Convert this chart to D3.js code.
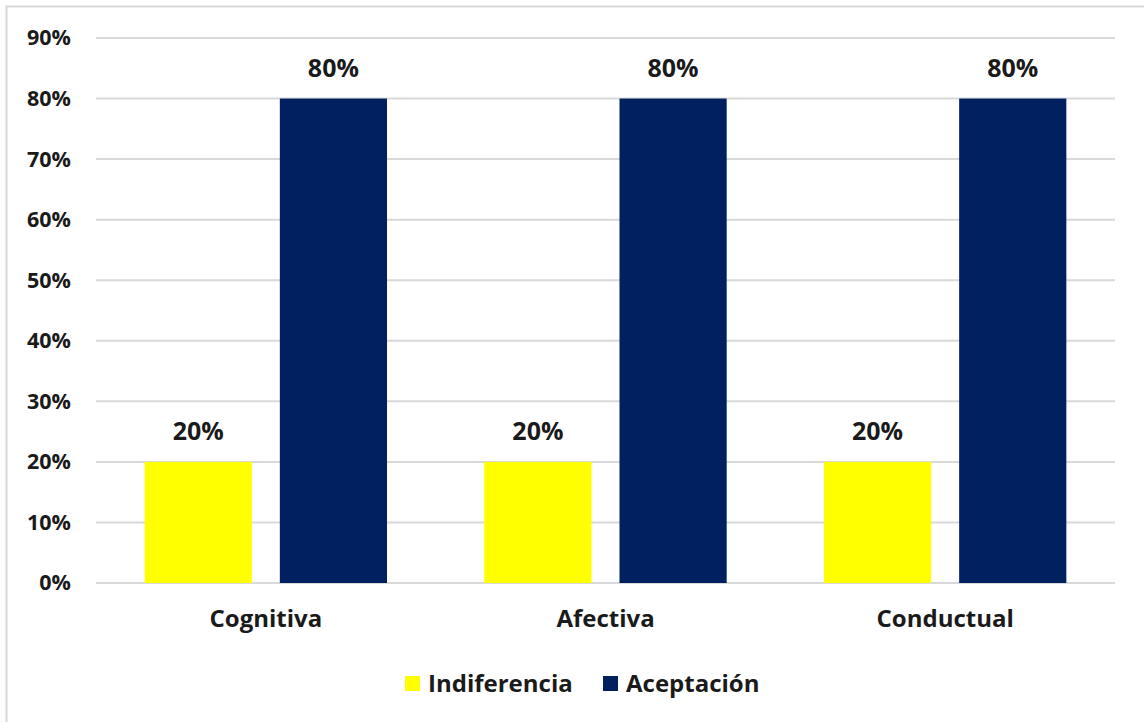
<!DOCTYPE html>
<html>
<head>
<meta charset="utf-8">
<script src="https://cdn.jsdelivr.net/npm/d3@7"></script>
<style>
  html, body { margin: 0; padding: 0; background: #fff; }
  svg { display: block; }
  text { font-family: "Open Sans", Lato, sans-serif; font-weight: bold; fill: #1a1a1a; }
</style>
</head>
<body>
<svg id="chart" width="1144" height="722"></svg>
<script>
// Dimensions of attitude and the share of each response
const categories = ["Cognitiva", "Afectiva", "Conductual"];
const seriesNames = ["Indiferencia", "Aceptación"];
const indiferencia = [0.20, 0.20, 0.20];
const aceptacion = [0.80, 0.80, 0.80];
const yTicks = [0, 0.1, 0.2, 0.3, 0.4, 0.5, 0.6, 0.7, 0.8, 0.9];
const colors = ["#FFFF00", "#002060"];

const svg = d3.select("#chart");
const W = 1144, H = 722;
const FONT = "'Open Sans', Lato, sans-serif";

// outer frame
svg.append("rect")
  .attr("x", 6.5).attr("y", 6.5)
  .attr("width", W + 10).attr("height", H + 10)
  .attr("fill", "#fff").attr("stroke", "#d9d9d9").attr("stroke-width", 2);

const plot = { left: 96, right: 1115, top: 38, bottom: 583 };

const x0 = d3.scaleBand().domain(categories)
  .range([plot.left, plot.right]).paddingInner(0).paddingOuter(0);
const x1 = d3.scaleBand().domain(seriesNames)
  .range([0, x0.bandwidth()]).paddingInner(0.207).paddingOuter(0.36);
const y = d3.scaleLinear().domain([0, 0.9]).range([plot.bottom, plot.top]);

// gridlines
svg.append("g").selectAll("line").data(yTicks).join("line")
  .attr("x1", plot.left).attr("x2", plot.right)
  .attr("y1", d => y(d)).attr("y2", d => y(d))
  .attr("stroke", "#d9d9d9").attr("stroke-width", 2);

// y axis labels
const yAxis = d3.axisLeft(y).tickValues(yTicks)
  .tickFormat(d3.format(".0%")).tickSize(0).tickPadding(25);
const yg = svg.append("g").attr("transform", `translate(${plot.left},0)`).call(yAxis);
yg.select(".domain").remove();
yg.selectAll("text").attr("font-size", 21.5).attr("fill", "#1a1a1a")
  .style("font-family", FONT).style("font-weight", "bold");

// bars
const rows = categories.map((c, i) => ({ cat: c, vals: [indiferencia[i], aceptacion[i]] }));
const groups = svg.append("g").selectAll("g").data(rows).join("g")
  .attr("transform", d => `translate(${x0(d.cat)},0)`);

groups.selectAll("rect").data(d => d.vals.map((v, j) => ({ name: seriesNames[j], v, j })))
  .join("rect")
  .attr("x", d => x1(d.name))
  .attr("width", x1.bandwidth())
  .attr("y", d => y(d.v))
  .attr("height", d => y(0) - y(d.v))
  .attr("fill", d => colors[d.j]);

// value labels
groups.selectAll("text.val").data(d => d.vals.map((v, j) => ({ name: seriesNames[j], v })))
  .join("text").attr("class", "val")
  .attr("x", d => x1(d.name) + x1.bandwidth() / 2)
  .attr("y", d => y(d.v) - 22)
  .attr("text-anchor", "middle")
  .attr("font-size", 25)
  .text(d => d3.format(".0%")(d.v));

// category labels
const xAxis = d3.axisBottom(x0).tickSize(0).tickPadding(27);
const xg = svg.append("g").attr("transform", `translate(0,${plot.bottom})`).call(xAxis);
xg.select(".domain").remove();
xg.selectAll("text").attr("font-size", 24).attr("fill", "#1a1a1a")
  .style("font-family", FONT).style("font-weight", "bold");

// legend
const legendY = 684;
const legendItems = [{ name: seriesNames[0], x: 405 }, { name: seriesNames[1], x: 603 }];
const lg = svg.append("g").selectAll("g").data(legendItems).join("g")
  .attr("transform", d => `translate(${d.x},${legendY})`);
lg.append("rect").attr("x", 0).attr("y", -8).attr("width", 15).attr("height", 15)
  .attr("fill", (d, i) => colors[i]);
lg.append("text").attr("x", 23).attr("y", 0).attr("dy", "0.35em")
  .attr("font-size", 24).text(d => d.name);
</script>
</body>
</html>
